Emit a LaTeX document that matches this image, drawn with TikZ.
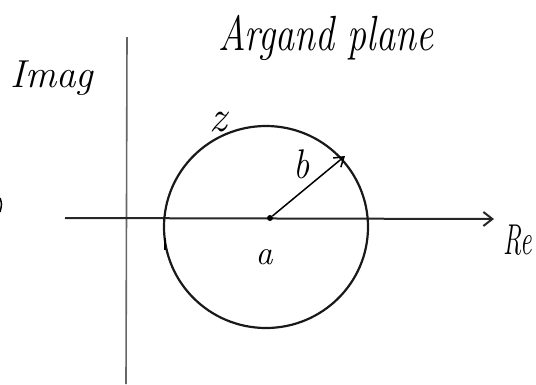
\documentclass[tikz,border=0pt]{standalone}
\usepackage{graphicx}
\usetikzlibrary{arrows.meta}
\begin{document}
\begin{tikzpicture}[x=1pt,y=-1pt,
  lbl/.style={inner sep=0pt, font=\fontsize{#1}{#1}\selectfont\itshape},
  lbl/.default=32,
  axis/.style={line width=2pt, black!85},
  vaxis/.style={line width=1.6pt, black!60},
  ring/.style={line width=2.2pt, black!90},
  radius arrow/.style={line width=1.5pt, -{Straight Barb[length=9pt,width=12pt,line width=1.5pt]}}]
\useasboundingbox (0,0) rectangle (536,384);
% axes
\coordinate (vtop) at (127,37);
\coordinate (vbot) at (126,384);
\draw[vaxis] (vtop) -- (vbot);
\coordinate (hleft) at (65,218);
\coordinate (hright) at (494,219);
\draw[axis, -{Straight Barb[length=9pt,width=14pt,line width=2pt]}] (hleft) -- (hright);
% circle
\coordinate (cc) at (266,227);
\draw[ring] (cc) circle[x radius=102, y radius=101];
\draw[line width=2.6pt] (165,250) -- (165,238);
% centre and radius
\node[circle, fill=black, inner sep=0pt, minimum size=6pt] (a) at (270,218) {};
\coordinate (tip) at (345,156);
\draw[radius arrow] (a) -- (tip);
% labels
\node[lbl=38] (title) at (326,38) {\scalebox{1}[1.3]{Argand plane}};
\node[lbl=39] (imag) at (52,78) {Imag};
\node[lbl=44] (z) at (218,122) {z};
\node[lbl=36] (b) at (302,164) {\scalebox{1}[1.15]{b}};
\node[lbl=34] (alabel) at (264,257) {a};
\node[lbl=32] (re) at (518,240) {\scalebox{0.8}[1.35]{Re}};
% fragment at left edge
\draw[line width=1.5pt] (0,198) .. controls (2,204) .. (0,212);
\end{tikzpicture}
\end{document}
